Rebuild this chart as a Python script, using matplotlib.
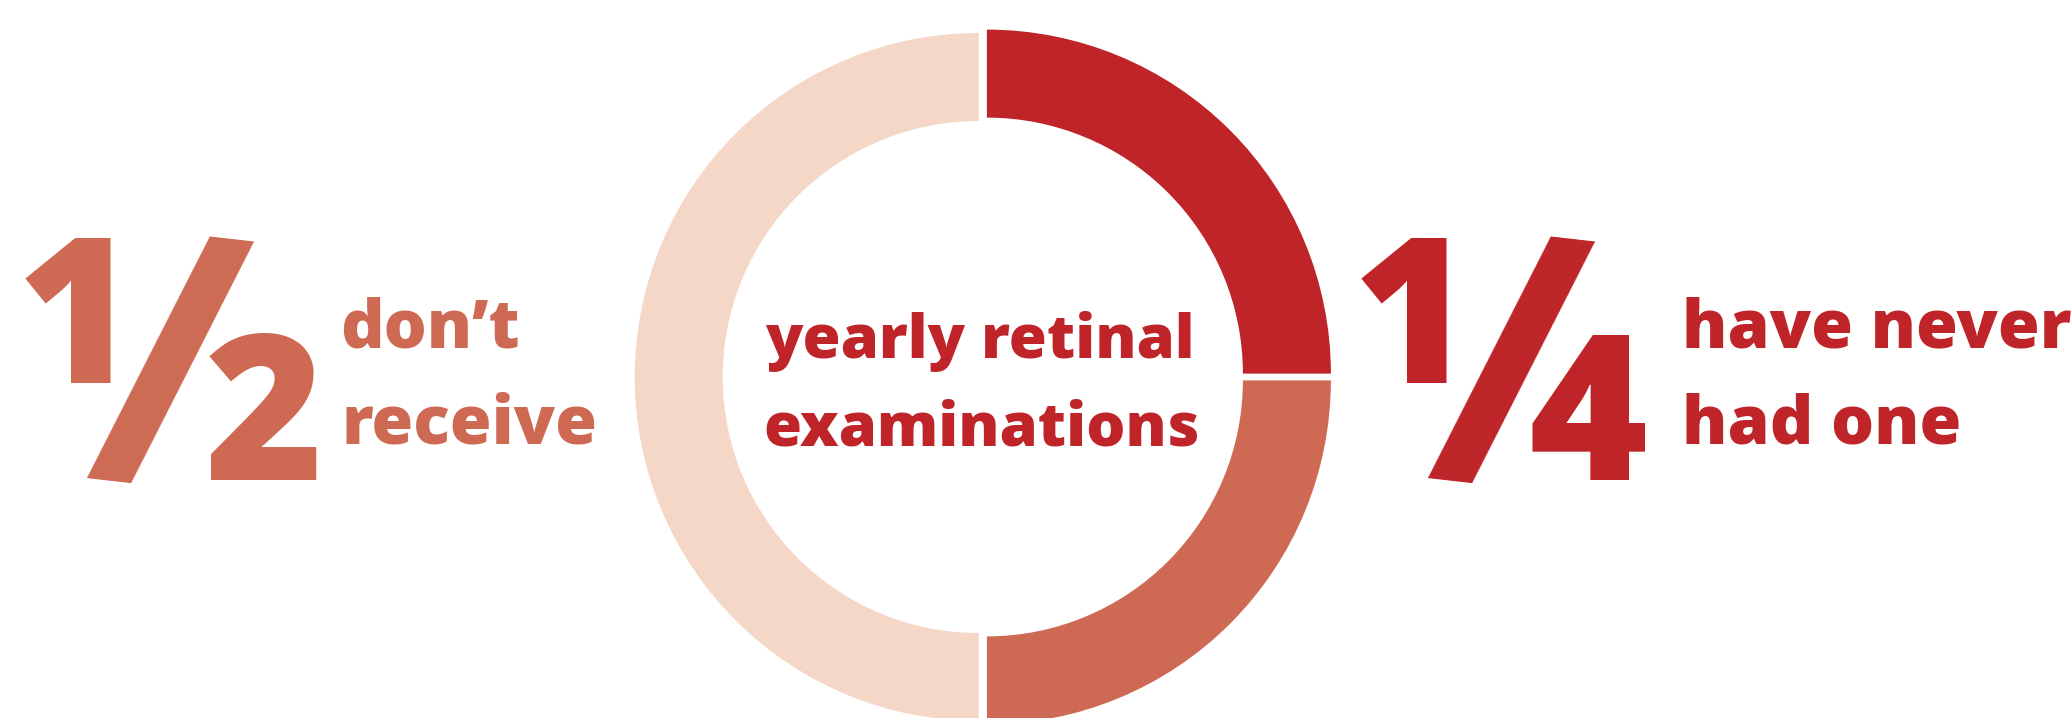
import os
import numpy as np
import matplotlib.pyplot as plt
from matplotlib import font_manager as fm
from matplotlib.textpath import TextPath
from matplotlib.transforms import Affine2D

# --- DATA ---
# slices, clockwise from 12 o'clock
slice_names = ["have never had one", "don't receive yearly", "receive yearly"]
shares = [25, 25, 50]
slice_colors = ["#BE2428", "#CE6A53", "#F5D7C8"]

left_fraction = ["1", "2"]
left_label = ["don\u2019t", "receive"]
right_fraction = ["1", "4"]
right_label = ["have never", "had one"]
center_label = ["yearly retinal", "examinations"]

ORANGE = "#CE6A53"
RED = "#BE2428"


def font_file(prefixes, fallback):
    names = {os.path.basename(f.fname): f.fname for f in fm.fontManager.ttflist}
    for p in prefixes:
        for n, path in names.items():
            if n.startswith(p):
                return fm.FontProperties(fname=path)
    return fallback


FP_BOLD = fm.FontProperties(family="Open Sans", weight="bold", stretch="normal")
FP = font_file(["OpenSans-ExtraBold"], FP_BOLD)
FP_SLASH = font_file(["OpenSans-CondBold"], FP_BOLD)

W, H = 2072, 718
PX = 100 / 72  # pixels per point


def ink(s, fp, size, rot=0):
    # ink box in px, relative to (ink-left, baseline), after rotation
    tp = TextPath((0, 0), s, size=size, prop=fp)
    e = tp.get_extents()
    t = Affine2D().translate(-e.x0, 0).rotate_deg(rot).scale(PX)
    return tp.transformed(t).get_extents()


fig = plt.figure(figsize=(W / 100, H / 100), dpi=100)
ax = fig.add_axes([0, 0, 1, 1])

# donut (axes units = pixels, y measured from the bottom)
ax.pie(shares, colors=slice_colors, startangle=90, counterclock=False,
       radius=344, center=(983.5, H - 377), explode=[4.8] * 3,
       wedgeprops=dict(width=88, linewidth=0))
ax.set_xlim(0, W)
ax.set_ylim(0, H)
ax.set_aspect("auto")
ax.axis("off")

# sizes fitted to the lettering of the original
digit_size = 100 * 145 / ink("1", FP, 100).height
side_size = 100 * 384 / ink(right_label[0], FP, 100).width
center_size = 100 * 431 / ink(center_label[1], FP, 100).width

# slash: pick the tilt that gives the original's proportions
best = None
for r in np.arange(0, -25, -0.5):
    e = ink("/", FP_SLASH, 100, r)
    d = abs(e.width / e.height - 166 / 247)
    if best is None or d < best[0]:
        best = (d, r)
slash_rot = best[1]
slash_size = 100 * 247 / ink("/", FP_SLASH, 100, slash_rot).height
se = ink("/", FP_SLASH, slash_size, slash_rot)


def txt(x, y, s, size, color, ha="left", fp=FP):
    ax.text(x, H - y, s, fontproperties=fp, fontsize=size, color=color,
            ha=ha, va="baseline")


def big_fraction(x_num, x_slash, x_den, frac, color):
    txt(x_num, 383, frac[0], digit_size, color, ha="center")
    txt(x_den, 480, frac[1], digit_size, color, ha="center")
    # slash centred on (x_slash, 359.5)
    x0 = x_slash - (se.x0 + se.x1) / 2
    y0 = (H - 359.5) - (se.y0 + se.y1) / 2
    ax.text(x0, y0, "/", fontproperties=FP_SLASH, fontsize=slash_size, color=color,
            ha="left", va="baseline", rotation=slash_rot, rotation_mode="anchor")


# left block
big_fraction(76.5, 167, 264.5, left_fraction, ORANGE)
txt(340, 347, left_label[0], side_size, ORANGE)
txt(341, 443, left_label[1], side_size, ORANGE)

# right block
big_fraction(1412.5, 1507.5, 1588, right_fraction, RED)
txt(1682, 347, right_label[0], side_size, RED)
txt(1682, 443, right_label[1], side_size, RED)

# centre
txt(979.5, 358.5, center_label[0], center_size, RED, ha="center")
txt(981.5, 445, center_label[1], center_size, RED, ha="center")

fig.savefig("out.png", dpi=100, facecolor="white")
